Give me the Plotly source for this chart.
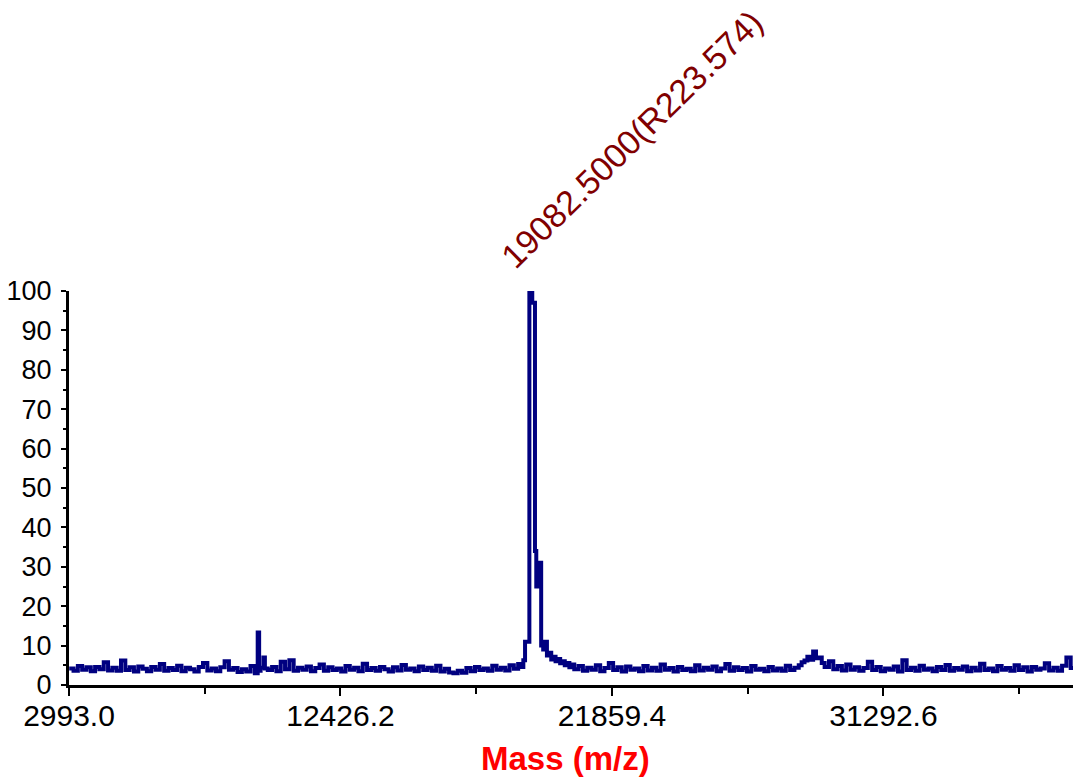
import plotly.graph_objects as go

# ---- data ----
mass_left = [3000, 3150, 3300, 3450, 3600, 3750, 3900, 4050, 4200, 4350,
             4500, 4650, 4800, 4950, 5100, 5250, 5400, 5550, 5700, 5850,
             6000, 6150, 6300, 6450, 6600, 6750, 6900, 7050, 7200, 7350,
             7500, 7650, 7800, 7950, 8100, 8250, 8400, 8550, 8700, 8850,
             9000, 9150, 9300, 9450, 9550, 9600, 9650, 9750, 9800, 9900,
             10050, 10200, 10350, 10500, 10650, 10800, 10950, 11100, 11250, 11400,
             11550, 11700, 11850, 12000, 12150, 12300, 12450, 12600, 12750, 12900,
             13050, 13200, 13350, 13500, 13650, 13800, 13950, 14100, 14250, 14400,
             14550, 14700, 14850, 15000, 15150, 15300, 15450, 15600, 15750, 15900,
             16050, 16200, 16350, 16500, 16650, 16800, 16950, 17100, 17250, 17400,
             17550, 17700, 17850, 18000, 18150, 18300, 18450, 18600, 18700]
int_left = [4.2, 3.6, 4.8, 3.9, 4.5, 3.5, 4.6, 4.0, 5.8, 3.7,
            4.4, 3.6, 6.2, 3.8, 4.5, 3.4, 4.7, 4.1, 3.5, 4.6,
            3.9, 5.3, 3.6, 4.3, 3.8, 4.9, 3.5, 4.4, 4.0, 3.4,
            4.6, 5.6, 3.7, 4.2, 3.5, 4.5, 6.0, 3.9, 4.3, 3.3,
            4.0, 3.4, 4.8, 3.0, 13.3, 3.6, 4.4, 7.0, 4.2, 3.8,
            4.6, 3.5, 5.9, 4.0, 6.3, 3.6, 4.4, 3.9, 4.7, 3.5,
            4.3, 5.2, 3.6, 4.5, 3.8, 4.2, 3.4, 4.8, 3.9, 4.4,
            3.5, 5.4, 3.8, 4.3, 3.6, 4.6, 4.0, 3.4, 4.5, 3.7,
            5.1, 3.9, 4.2, 3.5, 4.7, 3.8, 4.4, 3.6, 4.9, 3.4,
            4.1, 3.2, 3.0, 3.6, 3.1, 4.3, 3.5, 4.6, 3.8, 4.2,
            3.6, 4.9, 3.9, 4.4, 3.7, 5.0, 4.1, 5.3, 4.6]

mass_peak = [18780, 18840, 18990, 19090, 19185, 19230, 19270, 19400, 19470, 19530,
             19600, 19680, 19750, 19830, 19900, 19980, 20060, 20140, 20220, 20300,
             20380, 20460]
int_peak = [6.3, 11.0, 100.0, 97.0, 34.0, 25.0, 31.0, 10.0, 9.0, 11.0,
            7.5, 8.2, 6.5, 7.2, 6.0, 6.6, 5.5, 6.0, 5.0, 5.6,
            4.5, 5.2]

mass_right = [20550, 20700, 20850, 21000, 21150, 21300, 21450, 21600, 21750, 21900,
              22050, 22200, 22350, 22500, 22650, 22800, 22950, 23100, 23250, 23400,
              23550, 23700, 23850, 24000, 24150, 24300, 24450, 24600, 24750, 24900,
              25050, 25200, 25350, 25500, 25650, 25800, 25950, 26100, 26250, 26400,
              26550, 26700, 26850, 27000, 27150, 27300, 27450, 27600, 27750, 27900,
              28050, 28200, 28350, 28450, 28550, 28650, 28750, 28850, 28950, 29050,
              29150, 29250, 29400, 29550, 29700, 29850, 30000, 30150, 30300, 30450,
              30600, 30750, 30900, 31050, 31200, 31350, 31500, 31650, 31800, 31950,
              32100, 32250, 32400, 32550, 32700, 32850, 33000, 33150, 33300, 33450,
              33600, 33750, 33900, 34050, 34200, 34350, 34500, 34650, 34800, 34950,
              35100, 35250, 35400, 35550, 35700, 35850, 36000, 36150, 36300, 36450,
              36600, 36750, 36900, 37050, 37200, 37350, 37500, 37650, 37800, 37880]
int_right = [4.0, 4.8, 3.6, 4.4, 3.9, 5.0, 3.5, 4.3, 5.6, 3.8,
             4.5, 3.4, 4.7, 3.9, 4.2, 3.5, 4.8, 3.7, 4.4, 3.6,
             5.2, 3.9, 4.3, 3.4, 4.6, 3.8, 4.1, 3.5, 5.0, 3.7,
             4.4, 3.9, 4.7, 3.5, 4.2, 5.3, 3.6, 4.5, 3.8, 4.3,
             3.4, 4.8, 3.9, 4.1, 3.5, 4.6, 3.7, 4.2, 3.6, 4.9,
             3.8, 4.4, 5.0, 5.8, 6.2, 7.2, 6.4, 8.5, 6.8, 7.0,
             5.6, 4.6, 6.0, 4.0, 4.8, 3.7, 5.2, 3.9, 4.5, 3.6,
             4.3, 5.9, 3.8, 4.6, 3.5, 4.2, 3.9, 4.7, 3.4, 6.3,
             3.8, 4.4, 3.6, 4.9, 3.9, 4.2, 3.5, 4.6, 3.8, 5.1,
             3.6, 4.3, 3.9, 4.7, 3.5, 4.4, 3.7, 5.4, 3.8, 4.2,
             3.5, 4.8, 3.9, 4.3, 3.6, 5.0, 3.8, 4.5, 3.4, 4.6,
             3.9, 4.2, 5.5, 3.7, 4.4, 3.6, 4.9, 7.0, 4.3, 4.3]

x_tick_vals = [2993.0, 12426.2, 21859.4, 31292.6]
x_tick_text = ["2993.0", "12426.2", "21859.4", "31292.6"]
x_minor_vals = [7709.6, 17142.8, 26576.0, 36009.2]
y_tick_vals = [0, 10, 20, 30, 40, 50, 60, 70, 80, 90, 100]

peak_mass = 19082.5
peak_label = "19082.5000(R223.574)"
x_title = "Mass (m/z)"

mass = mass_left + mass_peak + mass_right
intensity = int_left + int_peak + int_right

fig = go.Figure()
fig.add_trace(go.Scatter(
    x=mass, y=intensity, mode="lines",
    line=dict(color="#000080", width=4, shape="hv"),
    hoverinfo="skip", showlegend=False,
))

font_family = "Liberation Sans, Arial, sans-serif"

fig.update_layout(
    width=1073, height=780,
    margin=dict(l=69, r=0, t=291, b=95),
    paper_bgcolor="white", plot_bgcolor="white",
    showlegend=False,
    xaxis=dict(
        range=[2993.0, 37880],
        tickmode="array", tickvals=x_tick_vals, ticktext=x_tick_text,
        ticks="outside", ticklen=8, tickwidth=2, tickcolor="black",
        minor=dict(tickmode="array", tickvals=x_minor_vals,
                   ticks="outside", ticklen=6, tickwidth=2, tickcolor="black"),
        showline=True, linecolor="black", linewidth=3,
        showgrid=False, zeroline=False,
        tickfont=dict(family=font_family, size=30, color="black"),
        ticklabelstandoff=-6,
    ),
    yaxis=dict(
        range=[0, 100],
        tickmode="array", tickvals=y_tick_vals,
        ticks="outside", ticklen=5, tickwidth=2, tickcolor="black",
        minor=dict(dtick=5, ticks="outside", ticklen=3, tickwidth=2, tickcolor="black"),
        showline=True, linecolor="black", linewidth=3,
        showgrid=False, zeroline=False,
        tickfont=dict(family=font_family, size=27, color="black"),
        ticklabelstandoff=4,
    ),
    annotations=[
        dict(x=peak_mass, y=100, xref="x", yref="y", text=peak_label,
             showarrow=False, textangle=-44.5, xshift=100, yshift=152,
             xanchor="center", yanchor="middle",
             font=dict(family=font_family, size=34, color="#800000")),
        dict(x=0.495, y=-0.186, xref="paper", yref="paper", text="<b>" + x_title + "</b>",
             showarrow=False, xanchor="center", yanchor="middle",
             font=dict(family=font_family, size=33, color="#FF0000")),
    ],
)

fig.write_html(
    "out.html",
    config={"displayModeBar": False},
    post_script="document.body.style.margin='0';document.body.style.overflow='hidden';",
)
